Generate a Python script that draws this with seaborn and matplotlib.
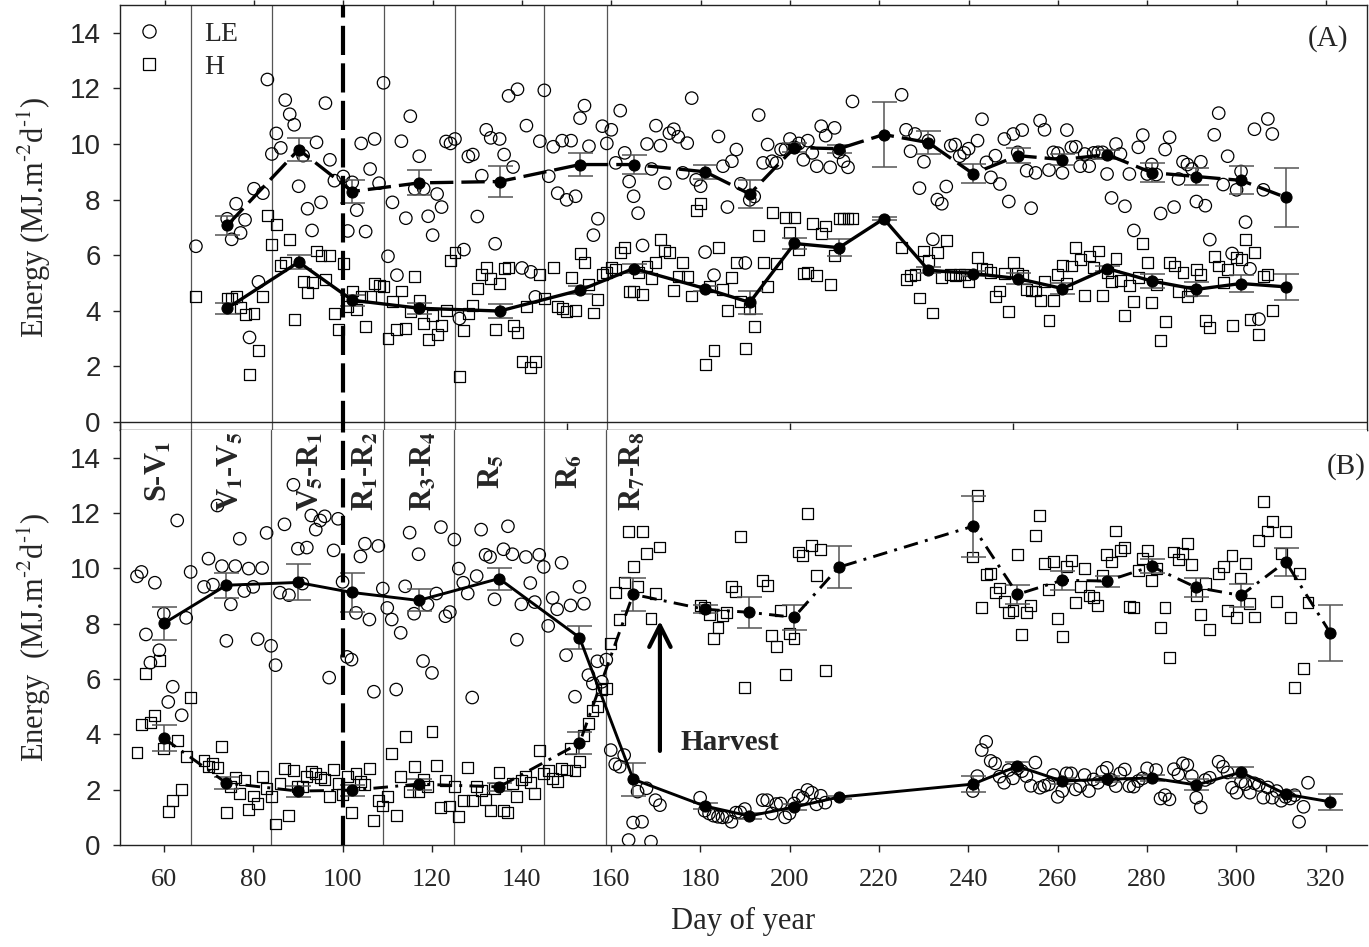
import seaborn as sns
import matplotlib.pyplot as plt
from matplotlib.lines import Line2D

# ---- panel A: daily values ----
a_le_day = [67, 74, 75, 76, 77, 78, 79, 80, 81, 82, 83, 84, 85, 86, 87, 88, 89, 90, 91, 92, 93, 94, 95, 96, 97, 98, 100,
            101, 102, 103, 104, 105, 106, 107, 108, 109, 110, 111, 112, 113, 114, 115, 116, 117, 118, 119, 120, 121, 122,
            123, 124, 125, 126, 127, 128, 129, 130, 131, 132, 133, 134, 135, 136, 137, 138, 139, 140, 141, 142, 143, 144,
            145, 146, 147, 148, 149, 150, 151, 152, 153, 154, 155, 156, 157, 158, 159, 160, 161, 162, 163, 164, 165, 166,
            167, 168, 169, 170, 171, 172, 173, 174, 175, 176, 177, 178, 179, 180, 181, 183, 184, 185, 186, 187, 188, 189,
            190, 191, 192, 193, 194, 195, 196, 197, 198, 199, 200, 201, 202, 203, 204, 205, 206, 207, 208, 209, 210, 211,
            212, 213, 214, 225, 226, 227, 228, 229, 230, 231, 232, 233, 234, 235, 236, 237, 238, 239, 240, 242, 243, 244,
            245, 246, 247, 248, 249, 250, 251, 252, 253, 254, 255, 256, 257, 258, 259, 260, 261, 262, 263, 264, 265, 266,
            267, 268, 269, 270, 271, 272, 273, 274, 275, 276, 277, 278, 279, 280, 281, 282, 283, 284, 285, 286, 287, 288,
            289, 290, 291, 292, 293, 294, 295, 296, 297, 298, 299, 300, 301, 302, 303, 304, 305, 306, 307, 308]
a_le_val = [6.32, 7.31, 6.57, 7.85, 6.80, 7.27, 3.04, 8.39, 5.04, 8.23, 12.32, 9.64, 10.38, 9.86, 11.58, 11.07, 10.69, 8.48,
            9.58, 7.67, 6.89, 10.06, 7.90, 11.47, 9.43, 8.68, 8.83, 6.87, 8.62, 7.62, 10.02, 6.85, 9.10, 10.18, 8.59, 12.20,
            5.96, 7.90, 5.28, 10.10, 7.33, 11.00, 8.39, 9.56, 8.39, 7.40, 6.72, 8.20, 7.73, 10.09, 10.02, 10.18, 3.72, 6.20,
            9.55, 9.62, 7.39, 8.86, 10.51, 10.22, 6.41, 10.18, 9.62, 11.73, 9.17, 11.97, 5.54, 10.66, 5.40, 4.50, 10.10,
            11.93, 8.84, 9.90, 8.23, 10.12, 7.99, 10.12, 8.12, 10.93, 11.38, 9.92, 6.72, 7.31, 10.64, 10.02, 10.51, 9.32,
            11.20, 9.68, 8.65, 8.12, 7.51, 6.35, 10.00, 9.10, 10.66, 9.94, 8.59, 10.39, 10.53, 10.26, 8.96, 10.03, 11.65,
            8.71, 8.48, 6.11, 5.28, 10.27, 9.20, 7.73, 9.38, 9.80, 8.57, 5.72, 7.99, 8.11, 11.04, 9.32, 9.98, 9.38, 9.32,
            9.80, 9.80, 10.18, 9.88, 10.02, 9.43, 10.12, 9.68, 9.20, 10.64, 10.30, 9.16, 10.58, 9.70, 9.38, 9.16, 11.53,
            11.77, 10.51, 9.74, 10.36, 8.41, 9.36, 10.12, 6.57, 8.00, 7.85, 8.47, 9.94, 9.98, 9.56, 9.68, 9.83, 10.12,
            10.89, 9.34, 8.80, 9.58, 8.56, 10.18, 7.93, 10.36, 9.70, 10.50, 9.04, 7.69, 8.96, 10.84, 10.51, 9.06, 9.70,
            9.67, 8.96, 10.50, 9.88, 9.90, 9.20, 9.64, 9.20, 9.68, 9.70, 9.70, 8.92, 8.06, 10.00, 9.64, 7.76, 8.92, 6.89,
            9.88, 10.32, 8.92, 9.26, 8.90, 7.50, 9.80, 10.24, 7.73, 8.74, 9.36, 9.26, 9.10, 7.93, 9.36, 7.78, 6.56, 10.33,
            11.11, 8.54, 9.56, 6.06, 8.35, 9.01, 7.19, 5.51, 10.53, 3.70, 8.35, 10.90, 10.36]

a_h_day = [67, 74, 75, 76, 77, 78, 79, 80, 81, 82, 83, 84, 85, 86, 87, 88, 89, 91, 92, 93, 94, 95, 96, 97, 98, 99, 100,
           101, 102, 103, 104, 105, 106, 107, 108, 109, 110, 111, 112, 113, 114, 115, 116, 117, 118, 119, 120, 121, 122,
           123, 124, 125, 126, 127, 128, 129, 130, 131, 132, 133, 134, 135, 136, 137, 138, 139, 140, 141, 142, 143, 144,
           145, 147, 148, 149, 150, 151, 152, 153, 154, 155, 156, 157, 158, 159, 160, 161, 162, 163, 164, 165, 166, 167,
           168, 169, 170, 171, 172, 173, 174, 175, 176, 177, 178, 179, 180, 181, 182, 183, 184, 185, 186, 187, 188, 189,
           190, 191, 192, 193, 194, 195, 196, 197, 199, 200, 201, 202, 203, 204, 205, 206, 207, 208, 209, 210, 211, 212,
           213, 214, 225, 226, 227, 228, 229, 230, 231, 232, 233, 234, 235, 236, 237, 238, 239, 240, 242, 243, 244, 245,
           246, 247, 248, 249, 250, 251, 252, 253, 254, 255, 256, 257, 258, 259, 260, 261, 262, 263, 264, 265, 266, 267,
           268, 269, 270, 271, 272, 273, 274, 275, 276, 277, 278, 279, 280, 281, 282, 283, 284, 285, 286, 287, 288, 289,
           290, 291, 292, 293, 294, 295, 296, 297, 298, 299, 300, 301, 302, 303, 304, 305, 306, 307, 308]
a_h_val = [4.52, 4.46, 4.44, 4.52, 4.11, 3.86, 1.69, 3.90, 2.58, 4.50, 7.43, 6.39, 7.10, 5.63, 5.73, 6.57, 3.68, 5.04,
           4.64, 5.00, 6.15, 5.99, 5.12, 5.99, 3.90, 3.33, 5.69, 4.14, 4.71, 4.04, 4.50, 3.42, 4.52, 4.98, 4.92, 4.86,
           3.00, 4.32, 3.33, 4.71, 3.36, 3.96, 5.24, 4.38, 3.54, 2.97, 3.84, 3.16, 3.48, 4.02, 5.81, 6.11, 1.63, 3.28,
           3.90, 4.20, 4.80, 5.31, 5.54, 5.16, 3.33, 4.98, 5.51, 5.57, 3.48, 3.22, 2.17, 4.14, 1.96, 2.19, 5.31, 4.44,
           5.57, 4.14, 4.08, 3.96, 5.19, 4.02, 6.05, 5.73, 4.94, 3.92, 4.41, 5.30, 5.39, 5.57, 5.48, 6.09, 6.29, 4.70,
           4.70, 5.39, 4.58, 5.61, 5.16, 5.72, 6.56, 6.17, 6.09, 4.74, 5.24, 5.75, 5.24, 4.53, 7.61, 7.85, 2.07, 4.88,
           2.58, 6.29, 4.76, 4.02, 5.19, 5.73, 4.34, 2.64, 4.08, 3.42, 6.71, 5.75, 4.88, 7.52, 5.69, 7.37, 6.81, 7.37,
           6.20, 5.33, 5.39, 7.13, 5.27, 6.79, 7.05, 4.95, 5.99, 7.31, 7.31, 7.31, 7.31, 6.27, 5.12, 5.27, 5.31, 4.46,
           6.15, 5.81, 3.92, 6.08, 5.18, 6.53, 5.31, 5.25, 5.30, 5.31, 5.04, 5.90, 5.51, 5.48, 5.39, 4.52, 4.71, 5.33,
           3.98, 5.75, 5.33, 5.27, 4.76, 4.71, 4.71, 4.38, 5.04, 3.66, 4.38, 5.30, 5.63, 4.98, 5.61, 6.27, 5.84, 4.56,
           5.97, 5.57, 6.15, 4.56, 5.39, 5.06, 5.87, 5.10, 3.84, 4.92, 4.32, 5.19, 6.41, 5.72, 4.29, 4.94, 2.94, 3.60,
           5.75, 5.61, 4.70, 5.36, 4.52, 4.71, 5.48, 5.31, 3.64, 3.40, 5.96, 5.61, 5.00, 5.48, 3.46, 5.90, 5.85, 6.56,
           3.68, 6.08, 3.16, 5.24, 5.31, 4.00]

# ---- panel A: 10-day means and errors ----
a_mean_day = [74, 90, 102, 117, 135, 153, 165, 181, 191, 201, 211, 221, 231, 241, 251, 261, 271, 281, 291, 301, 311]
a_le_mean = [7.07, 9.80, 8.29, 8.60, 8.65, 9.26, 9.26, 9.00, 8.20, 9.87, 9.83, 10.34, 10.05, 8.93, 9.58, 9.44, 9.62,
             8.97, 8.83, 8.69, 8.08]
a_le_err = [0.35, 0.40, 0.40, 0.45, 0.55, 0.40, 0.35, 0.25, 0.50, 0.15, 0.15, 1.17, 0.40, 0.35, 0.28, 0.20, 0.15,
            0.33, 0.30, 0.50, 1.05]
a_h_mean = [4.09, 5.75, 4.38, 4.09, 3.99, 4.74, 5.52, 4.80, 4.30, 6.42, 6.27, 7.31, 5.46, 5.34, 5.16, 4.80, 5.52,
            5.07, 4.77, 4.98, 4.86]
a_h_err = [0.20, 0.25, 0.20, 0.20, 0.25, 0.15, 0.15, 0.10, 0.40, 0.20, 0.30, 0.05, 0.10, 0.10, 0.20, 0.20, 0.10,
           0.25, 0.25, 0.30, 0.47]

# ---- panel B: daily values ----
b_le_day = [54, 55, 56, 57, 58, 59, 60, 61, 62, 63, 64, 65, 66, 69, 70, 71, 72, 73, 74, 75, 76, 77, 78, 79, 80, 81, 82,
            83, 84, 85, 86, 87, 88, 89, 90, 91, 92, 93, 94, 95, 96, 97, 98, 99, 100, 101, 102, 103, 104, 105, 106, 107,
            108, 109, 110, 111, 112, 113, 114, 115, 116, 117, 118, 119, 120, 121, 122, 123, 124, 125, 126, 127, 128,
            129, 130, 131, 132, 133, 134, 136, 137, 138, 139, 140, 141, 142, 143, 144, 145, 146, 147, 148, 149, 150,
            151, 152, 153, 154, 155, 156, 157, 158, 159, 160, 161, 162, 163, 164, 165, 166, 167, 168, 169, 170, 171,
            180, 181, 182, 183, 184, 185, 186, 187, 188, 189, 190, 194, 195, 196, 197, 198, 199, 200, 201, 202, 203,
            204, 205, 206, 207, 208, 241, 242, 243, 244, 245, 246, 247, 248, 249, 250, 251, 252, 253, 254, 255, 256,
            257, 258, 259, 260, 261, 262, 263, 264, 265, 266, 267, 268, 269, 270, 271, 272, 273, 274, 275, 276, 277,
            278, 279, 280, 282, 283, 284, 285, 286, 287, 288, 289, 290, 291, 292, 293, 294, 296, 297, 298, 299, 300,
            301, 302, 303, 304, 305, 306, 307, 308, 309, 310, 311, 312, 313, 314, 315, 316]
b_le_val = [9.71, 9.87, 7.61, 6.59, 9.48, 7.04, 8.36, 5.17, 5.72, 11.73, 4.69, 8.21, 9.87, 9.33, 10.35, 9.41, 12.27,
            10.08, 7.38, 8.70, 10.08, 11.07, 9.18, 9.99, 9.33, 7.44, 10.01, 11.28, 7.20, 6.50, 9.12, 11.59, 9.03, 13.02,
            10.71, 9.45, 10.75, 11.91, 11.40, 11.73, 11.88, 6.05, 10.65, 11.79, 9.51, 6.80, 6.70, 8.39, 10.43, 10.89,
            8.15, 5.54, 10.81, 9.27, 8.57, 8.15, 5.62, 7.67, 9.35, 11.29, 8.36, 10.51, 6.65, 8.69, 6.22, 9.09, 11.49,
            8.27, 8.42, 11.04, 9.99, 9.48, 9.09, 5.33, 9.72, 11.40, 10.49, 10.41, 8.88, 10.69, 11.52, 10.51, 7.42, 8.70,
            10.41, 9.47, 8.78, 10.49, 10.05, 7.92, 8.93, 8.52, 10.20, 6.86, 8.66, 5.36, 9.33, 8.72, 6.14, 5.84, 6.64,
            5.90, 6.70, 3.43, 2.92, 2.83, 3.25, 0.18, 0.81, 1.93, 0.84, 2.05, 0.12, 1.62, 1.44, 1.71, 1.24, 1.14, 1.06,
            1.02, 1.00, 1.02, 0.84, 1.17, 1.18, 1.30, 1.62, 1.62, 1.14, 1.48, 1.50, 1.00, 1.14, 1.50, 1.78, 1.71, 1.99,
            1.89, 1.47, 1.78, 1.53, 1.95, 2.49, 3.43, 3.73, 3.04, 2.95, 2.47, 2.25, 2.71, 2.41, 2.77, 2.67, 2.49, 2.14,
            2.98, 2.07, 2.14, 2.19, 2.53, 1.74, 1.95, 2.59, 2.59, 2.01, 2.13, 2.53, 1.95, 2.37, 2.25, 2.65, 2.79, 2.35,
            2.13, 2.59, 2.73, 2.13, 2.11, 2.31, 2.41, 2.77, 2.71, 1.68, 1.80, 1.65, 2.74, 2.55, 2.95, 2.89, 2.49, 1.71,
            1.36, 2.35, 2.43, 3.01, 2.83, 2.62, 2.07, 1.89, 2.29, 2.20, 1.89, 2.23, 2.17, 1.71, 2.08, 1.71, 1.95, 1.60,
            1.74, 1.68, 1.80, 0.84, 1.38, 2.25]

b_h_day = [54, 55, 56, 57, 58, 59, 60, 61, 62, 63, 64, 65, 66, 69, 70, 71, 72, 73, 74, 75, 76, 77, 78, 79, 80, 81, 82,
           83, 84, 85, 86, 87, 88, 89, 90, 91, 92, 93, 94, 95, 96, 97, 98, 99, 100, 101, 102, 103, 104, 105, 106, 107,
           108, 109, 110, 111, 112, 113, 114, 115, 116, 117, 118, 119, 120, 121, 122, 123, 124, 125, 126, 127, 128,
           129, 130, 131, 132, 133, 134, 135, 136, 137, 138, 139, 140, 141, 142, 143, 144, 145, 146, 147, 148, 149,
           150, 151, 152, 153, 154, 155, 156, 157, 158, 159, 160, 161, 162, 163, 164, 165, 166, 167, 168, 169, 170,
           171, 180, 181, 182, 183, 184, 185, 186, 187, 188, 189, 190, 194, 195, 196, 197, 198, 199, 200, 201, 202,
           203, 204, 205, 206, 207, 208, 241, 242, 243, 244, 245, 246, 247, 248, 249, 250, 251, 252, 253, 254, 255,
           256, 257, 258, 259, 260, 261, 262, 263, 264, 265, 266, 267, 268, 269, 270, 271, 272, 273, 274, 275, 276,
           277, 278, 279, 280, 281, 282, 283, 284, 285, 286, 287, 288, 289, 290, 291, 292, 293, 294, 296, 297, 298,
           299, 300, 301, 302, 303, 304, 305, 306, 307, 308, 309, 310, 311, 312, 313, 314, 315, 316]
b_h_val = [3.35, 4.37, 6.20, 4.43, 4.67, 6.68, 3.49, 1.20, 1.62, 3.77, 1.99, 3.19, 5.33, 3.07, 2.83, 2.95, 2.79, 3.55,
           1.17, 2.11, 2.44, 1.87, 2.35, 1.29, 1.77, 1.50, 2.49, 2.05, 1.74, 0.76, 2.23, 2.77, 1.05, 2.68, 2.11, 2.13,
           2.47, 2.65, 2.59, 2.43, 2.37, 1.74, 2.73, 2.23, 1.83, 2.49, 1.17, 2.59, 2.31, 2.17, 2.77, 0.90, 1.62, 1.41,
           1.74, 3.31, 1.05, 2.49, 3.93, 1.95, 2.83, 1.93, 2.37, 2.11, 4.09, 2.89, 1.35, 2.32, 1.41, 2.11, 1.02, 1.62,
           2.79, 1.62, 2.13, 1.96, 1.66, 1.24, 2.05, 2.61, 1.26, 1.17, 2.23, 1.74, 2.35, 2.49, 2.26, 1.87, 3.43, 2.59,
           2.68, 2.41, 2.29, 2.77, 2.71, 3.49, 2.68, 3.01, 3.97, 4.39, 4.87, 5.02, 5.62, 5.66, 7.30, 9.12, 8.15, 9.48,
           11.34, 10.05, 9.36, 11.34, 10.53, 8.18, 9.09, 10.77, 8.66, 8.57, 8.33, 7.48, 7.85, 8.30, 8.39, 9.33, 9.15,
           11.16, 5.69, 9.57, 9.39, 7.56, 7.16, 8.46, 6.16, 7.64, 7.48, 10.59, 10.45, 11.97, 10.81, 9.75, 10.67, 6.32,
           10.41, 12.64, 8.57, 9.78, 9.81, 9.12, 9.29, 8.81, 8.40, 8.46, 10.51, 7.62, 8.42, 8.66, 11.17, 11.91, 10.17,
           9.23, 10.25, 8.18, 7.52, 10.05, 10.29, 8.78, 9.33, 9.99, 9.03, 8.93, 8.66, 9.75, 10.51, 10.23, 11.35, 10.63,
           10.75, 8.63, 8.57, 9.93, 10.35, 10.65, 9.57, 9.99, 7.85, 8.60, 6.77, 10.59, 10.31, 10.55, 10.89, 10.14,
           9.03, 8.33, 9.45, 7.79, 9.83, 10.07, 8.46, 10.47, 8.21, 9.65, 10.19, 8.72, 8.24, 10.99, 12.42, 11.35, 11.70,
           8.81, 10.55, 11.34, 8.22, 5.68, 9.81, 6.38, 8.76]

# ---- panel B: 10-day means and errors ----
b_mean_day = [60, 74, 90, 102, 117, 135, 153, 165, 181, 191, 201, 211, 241, 251, 261, 271, 281, 291, 301, 311, 321]
b_le_mean = [8.01, 9.39, 9.49, 9.13, 8.84, 9.63, 7.50, 2.38, 1.41, 1.05, 1.37, 1.73, 2.20, 2.85, 2.31, 2.38, 2.42,
             2.17, 2.63, 1.84, 1.56]
b_le_err = [0.60, 0.45, 0.65, 0.70, 0.40, 0.40, 0.40, 0.60, 0.10, 0.10, 0.10, 0.05, 0.30, 0.15, 0.10, 0.10, 0.10,
            0.20, 0.20, 0.10, 0.30]
b_h_mean = [3.86, 2.24, 1.95, 1.98, 2.20, 2.10, 3.68, 9.06, 8.52, 8.41, 8.23, 10.04, 11.52, 9.06, 9.57, 9.54, 10.07,
            9.31, 9.02, 10.24, 7.66]
b_h_err = [0.47, 0.20, 0.20, 0.20, 0.20, 0.15, 0.40, 0.60, 0.15, 0.55, 0.45, 0.76, 1.10, 0.35, 0.35, 0.20, 0.25,
           0.35, 0.40, 0.50, 1.00]

# growth stages
stage_bounds = [66, 84, 109, 125, 145, 159]
split_day = 100
stage_pos = [59, 75, 93, 105.3, 118.3, 133.4, 151, 165]
stage_labels = [r'S-V$_\mathbf{1}$', r'V$_\mathbf{1}$-V$_\mathbf{5}$', r'V$_\mathbf{5}$-R$_\mathbf{1}$',
                r'R$_\mathbf{1}$-R$_\mathbf{2}$', r'R$_\mathbf{3}$-R$_\mathbf{4}$', r'R$_\mathbf{5}$',
                r'R$_\mathbf{6}$', r'R$_\mathbf{7}$-R$_\mathbf{8}$']
harvest_day = 171

sns.set_style('ticks')
plt.rcParams['font.family'] = ['Liberation Serif', 'DejaVu Serif']
plt.rcParams['mathtext.fontset'] = 'stix'

W, H = 1369, 947
fig = plt.figure(figsize=(W / 100, H / 100), dpi=100)
ax_a = fig.add_axes([120 / W, 1 - 430 / H, 1247 / W, 425 / H])
ax_b = fig.add_axes([120 / W, 1 - 845 / H, 1247 / W, 415 / H])

xlim = (50.2, 329.2)
ink = '#222222'
ebar = '#555555'
ylab = r'Energy%s(MJ.m$^{\text{-}2}$d$^{\text{-}1}$)'


def daily(ax, le_day, le_val, h_day, h_val):
    sns.scatterplot(x=le_day, y=le_val, ax=ax, marker='o', s=80, facecolor='none',
                    edgecolor='black', linewidth=0.9, zorder=3)
    sns.scatterplot(x=h_day, y=h_val, ax=ax, marker='s', s=62, facecolor='none',
                    edgecolor='black', linewidth=0.9, zorder=3)


def means(ax, day, val, err, ls, lw):
    ax.errorbar(day, val, yerr=err, fmt='none', ecolor=ebar, elinewidth=1.1,
                capsize=9, capthick=1.1, zorder=4)
    sns.lineplot(x=day, y=val, ax=ax, color='black', linewidth=lw, linestyle=ls,
                 marker='o', markersize=8, markeredgecolor='black', zorder=5)


for ax in (ax_a, ax_b):
    for d in stage_bounds:
        ax.axvline(d, color='#555555', lw=0.9, zorder=1)
    ax.axvline(split_day, color='black', lw=3, linestyle=(0, (7, 2.0)), zorder=6)
    ax.set_xlim(*xlim)
    ax.set_yticks(range(0, 15, 2))
    ax.tick_params(axis='y', labelsize=20, labelfontfamily='Liberation Sans', direction='out',
                   length=5, width=1, color=ink, pad=9)
    for s in ax.spines.values():
        s.set_color(ink)
        s.set_linewidth(1)

# panel A
daily(ax_a, a_le_day, a_le_val, a_h_day, a_h_val)
means(ax_a, a_mean_day, a_le_mean, a_le_err, (0, (7, 2.4)), 2.4)
means(ax_a, a_mean_day, a_h_mean, a_h_err, '-', 2.4)
ax_a.axhline(0, color=ink, lw=1, zorder=2)
ax_a.set_ylim(-0.29, 15)
ax_a.set_xticks(range(60, 321, 20))
ax_a.set_xticks(range(50, 301, 50), minor=True)
ax_a.xaxis.remove_overlapping_locs = False
ax_a.tick_params(axis='x', which='major', top=True, bottom=False, labelbottom=False,
                 direction='out', length=3.5, width=1, color=ink)
ax_a.tick_params(axis='x', which='minor', top=False, bottom=True, direction='in',
                 length=5, width=1, color=ink)
ax_a.set_xlabel('')
ax_a.set_ylabel(ylab % ' ', fontsize=22, labelpad=12)
ax_a.text(0.985, 0.922, '(A)', transform=ax_a.transAxes, ha='right', va='center', fontsize=21)
handles = [Line2D([], [], marker='o', ls='none', mfc='none', mec='black', ms=9.5, mew=0.9),
           Line2D([], [], marker='s', ls='none', mfc='none', mec='black', ms=8.5, mew=0.9)]
ax_a.legend(handles, ['LE', 'H'], loc='upper left', bbox_to_anchor=(0.012, 0.962), frameon=False,
            fontsize=20, handlelength=1, handletextpad=1.5, labelspacing=0.28, borderpad=0,
            borderaxespad=0)

# panel B
daily(ax_b, b_le_day, b_le_val, b_h_day, b_h_val)
means(ax_b, b_mean_day, b_le_mean, b_le_err, '-', 2.1)
means(ax_b, b_mean_day, b_h_mean, b_h_err, (0, (5, 2.5, 1, 2.5)), 2.1)
ax_b.set_ylim(0, 15)
ax_b.set_xticks(range(60, 321, 20))
ax_b.tick_params(axis='x', labelsize=19, direction='out', length=5, width=1, color=ink, pad=12)
ax_b.spines['top'].set_visible(False)
ax_b.spines['right'].set_visible(False)
ax_b.set_ylabel(ylab % '  ', fontsize=22, labelpad=12)
ax_b.set_xlabel('Day of year', fontsize=22, labelpad=12)
for x, lab in zip(stage_pos, stage_labels):
    ax_b.text(x, 13.5, lab, rotation=90, ha='center', va='center', fontsize=22, fontweight='bold')
ax_b.annotate('', xy=(harvest_day, 8.1), xytext=(harvest_day, 3.4),
              arrowprops=dict(arrowstyle='->,head_length=0.7,head_width=0.35', lw=3,
                              color='black', mutation_scale=22, shrinkA=0, shrinkB=0))
ax_b.text(harvest_day + 4.5, 3.7, 'Harvest', ha='left', va='center', fontsize=21, fontweight='bold')
ax_b.text(0.999, 0.913, '(B)', transform=ax_b.transAxes, ha='right', va='center', fontsize=21)

fig.savefig('out.png', dpi=100)
